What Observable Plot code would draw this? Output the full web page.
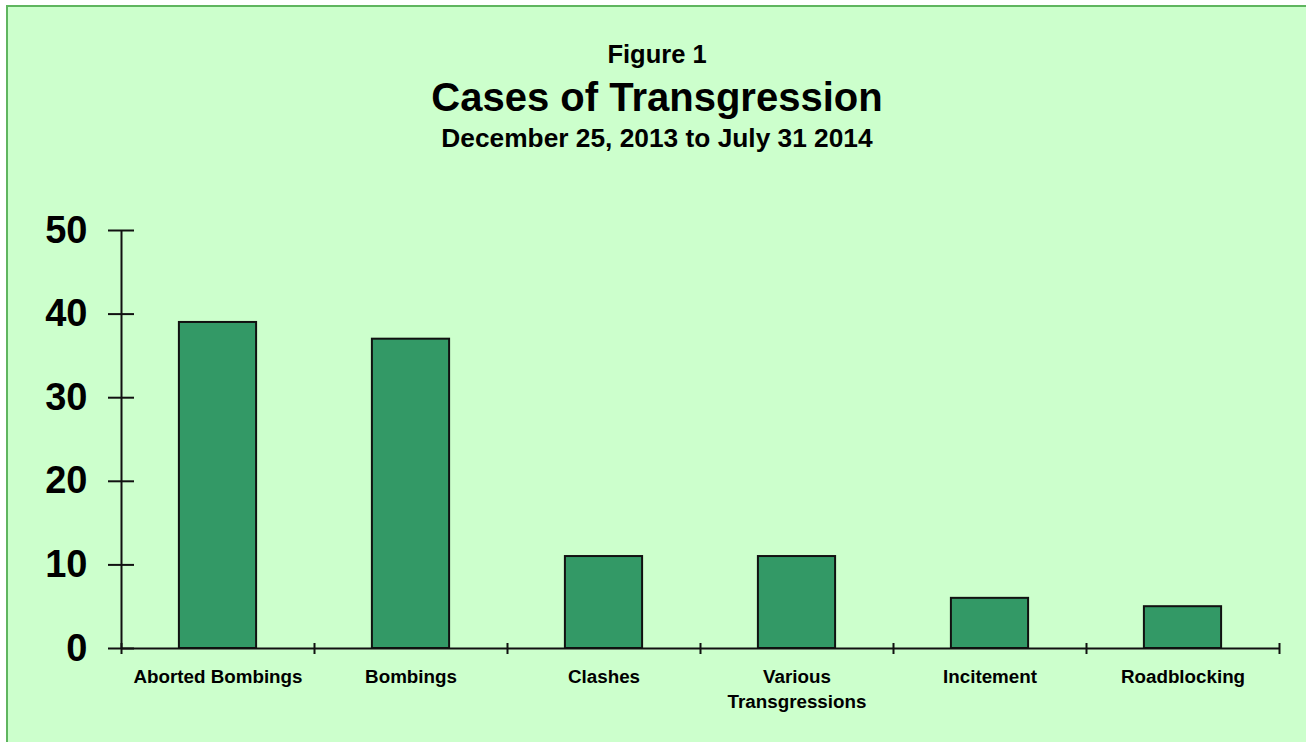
<!DOCTYPE html>
<html>
<head>
<meta charset="utf-8">
<script src="https://cdn.jsdelivr.net/npm/d3@7"></script>
<script src="https://cdn.jsdelivr.net/npm/@observablehq/plot@0.6"></script>
<style>
  html, body { margin: 0; padding: 0; width: 1306px; height: 742px; overflow: hidden; background: #ffffff; }
  body { position: relative; font-family: "Liberation Sans", Arial, sans-serif; }
  #frame { position: absolute; left: 6px; top: 5px; width: 1310px; height: 800px; box-sizing: border-box;
           border: 2px solid #5fb55f; background: #ccffcc; }
  .t { position: absolute; left: 657px; transform: translateX(-50%); white-space: nowrap; font-weight: bold; color: #000; text-align: center; }
  #fig { top: 39px; font-size: 25.5px; line-height: 30px; }
  #title { top: 74px; font-size: 40px; line-height: 46px; }
  #sub { top: 123px; font-size: 26.3px; line-height: 30px; }
  #chart { position: absolute; left: 0; top: 190px; }
</style>
</head>
<body>
<div id="frame"></div>
<div class="t" id="fig">Figure 1</div>
<div class="t" id="title">Cases of Transgression</div>
<div class="t" id="sub">December 25, 2013 to July 31 2014</div>
<div id="chart"></div>
<script>
const categories = ["Aborted Bombings", "Bombings", "Clashes", "Various\nTransgressions", "Incitement", "Roadblocking"];
const counts = [39, 37, 11, 11, 6, 5];
const yTicks = [0, 10, 20, 30, 40, 50];

const rows = categories.map((c, i) => ({i, label: c, value: counts[i]}));
const boundaries = d3.range(0, categories.length + 1);

const plot = Plot.plot({
  width: 1306,
  height: 552,
  marginTop: 40,
  marginBottom: 94,
  marginLeft: 121,
  marginRight: 27,
  style: {fontFamily: "'Liberation Sans', Arial, sans-serif", background: "transparent", color: "#000", overflow: "visible"},
  x: {domain: [0, categories.length], label: null},
  y: {domain: [0, 50], label: null},
  marks: [
    Plot.rectY(rows, {x1: d => d.i + 0.3, x2: d => d.i + 0.7, y: "value", fill: "#339966", stroke: "#111", strokeWidth: 2}),
    Plot.ruleX([0], {stroke: "#111", strokeWidth: 2}),
    Plot.ruleY([0], {stroke: "#111", strokeWidth: 2}),
    Plot.axisY({ticks: yTicks, tickSize: 26, dx: 13, tickFormat: () => "", label: null, stroke: "#111", strokeWidth: 2}),
    Plot.axisY({ticks: yTicks, tickSize: 0, tickPadding: 34, label: null, fontSize: 38, fontWeight: "bold", fill: "#000"}),
    Plot.axisX({ticks: boundaries, tickSize: 11, dy: -5, tickFormat: () => "", label: null, stroke: "#111", strokeWidth: 2}),
    Plot.text(rows, {x: d => d.i + 0.5, y: () => 0, text: "label", dy: 17, lineAnchor: "top", fontSize: 18.8, fontWeight: "bold", lineHeight: 1.33, fill: "#000"})
  ]
});
document.getElementById("chart").appendChild(plot);
</script>
</body>
</html>
